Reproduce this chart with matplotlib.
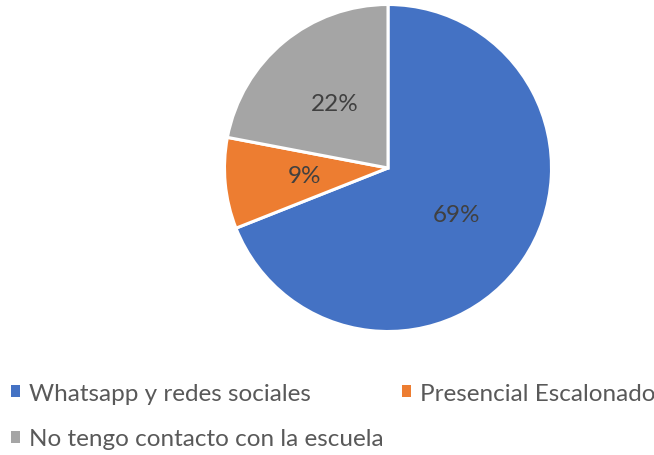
import matplotlib
matplotlib.use("Agg")
import matplotlib.pyplot as plt
from matplotlib.patches import Patch

categories = ["Whatsapp y redes sociales", "Presencial Escalonado", "No tengo contacto con la escuela"]
values = [69, 9, 22]
colors = ["#4472C4", "#ED7D31", "#A5A5A5"]

plt.rcParams['font.family'] = ['Lato', 'DejaVu Sans']
text_color = "#595959"

fig = plt.figure(figsize=(6.54, 4.56), dpi=100)
ax = fig.add_axes([0, 0, 1, 1])

wedges, texts, autotexts = ax.pie(values, colors=colors, startangle=90, counterclock=False,
       center=(388, 287), radius=163.5, autopct='%1.0f%%', pctdistance=0.51,
       wedgeprops=dict(edgecolor='white', linewidth=2.2),
       textprops=dict(color="#404040", fontsize=17.5), frame=True)
ax.set_xlim(0, 654)
ax.set_ylim(0, 456)
ax.set_aspect('equal')
ax.axis('off')

leg_kw = dict(loc='upper left', frameon=False, fontsize=17.5, labelcolor=text_color,
              handlelength=0.38, handleheight=0.38, handletextpad=0.35,
              labelspacing=1.0, borderpad=0, borderaxespad=0)

col1 = [0, 2]
col2 = [1]
leg1 = fig.legend([Patch(facecolor=colors[i], edgecolor='none') for i in col1],
                  [categories[i] for i in col1],
                  bbox_to_anchor=(11/654, 1 - 384/456), **leg_kw)
leg2 = fig.legend([Patch(facecolor=colors[i], edgecolor='none') for i in col2],
                  [categories[i] for i in col2],
                  bbox_to_anchor=(402/654, 1 - 384/456), **leg_kw)

fig.savefig("out.png", dpi=100)
